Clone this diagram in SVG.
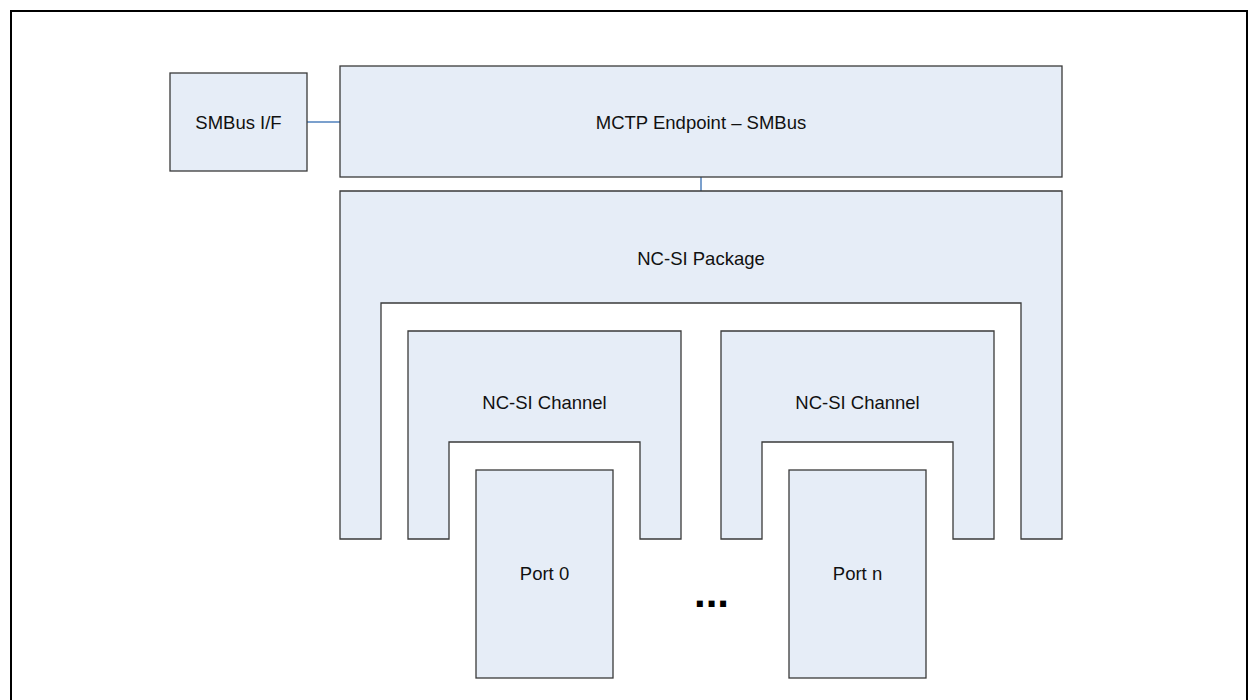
<svg xmlns="http://www.w3.org/2000/svg" width="1248" height="700" viewBox="0 0 1248 700">
<style>
.box{fill:#e6edf7;stroke:#3a3a3a;stroke-width:1.3}
.lbl{font-family:"Liberation Sans",Arial,sans-serif;font-size:18.5px;fill:#111;text-anchor:middle}
.conn{stroke:#4f81bd;stroke-width:1.5;fill:none}
</style>
<rect x="0" y="0" width="1248" height="700" fill="#fff"/>
<rect x="11" y="11" width="1236" height="700" fill="none" stroke="#000" stroke-width="2"/>
<g id="connectors">
<line class="conn" x1="307" y1="122" x2="340" y2="122"/>
<line class="conn" x1="701" y1="177" x2="701" y2="195"/>
</g>
<g id="smbus-if">
<rect class="box" x="170" y="73" width="137" height="98"/>
<text class="lbl" x="238.5" y="128.5">SMBus I/F</text>
</g>
<g id="mctp-endpoint">
<rect class="box" x="340" y="66" width="722" height="111"/>
<text class="lbl" x="701" y="128.5">MCTP Endpoint – SMBus</text>
</g>
<g id="ncsi-package">
<path class="box" d="M340,191 H1062 V539 H1021 V303 H381 V539 H340 Z"/>
<text class="lbl" x="701" y="265">NC-SI Package</text>
</g>
<g id="ncsi-channel-0">
<path class="box" d="M408,331 H681 V539 H640 V442 H449 V539 H408 Z"/>
<text class="lbl" x="544.5" y="409">NC-SI Channel</text>
</g>
<g id="ncsi-channel-n">
<path class="box" d="M721,331 H994 V539 H953 V442 H762 V539 H721 Z"/>
<text class="lbl" x="857.5" y="409">NC-SI Channel</text>
</g>
<g id="port-0">
<rect class="box" x="476" y="470" width="137" height="208"/>
<text class="lbl" x="544.5" y="580">Port 0</text>
</g>
<g id="port-n">
<rect class="box" x="789" y="470" width="137" height="208"/>
<text class="lbl" x="857.5" y="580">Port n</text>
</g>
<g id="ellipsis">
<text x="694" y="607" font-family="Liberation Sans,Arial,sans-serif" font-weight="bold" font-size="42" fill="#000">...</text>
</g>
</svg>
